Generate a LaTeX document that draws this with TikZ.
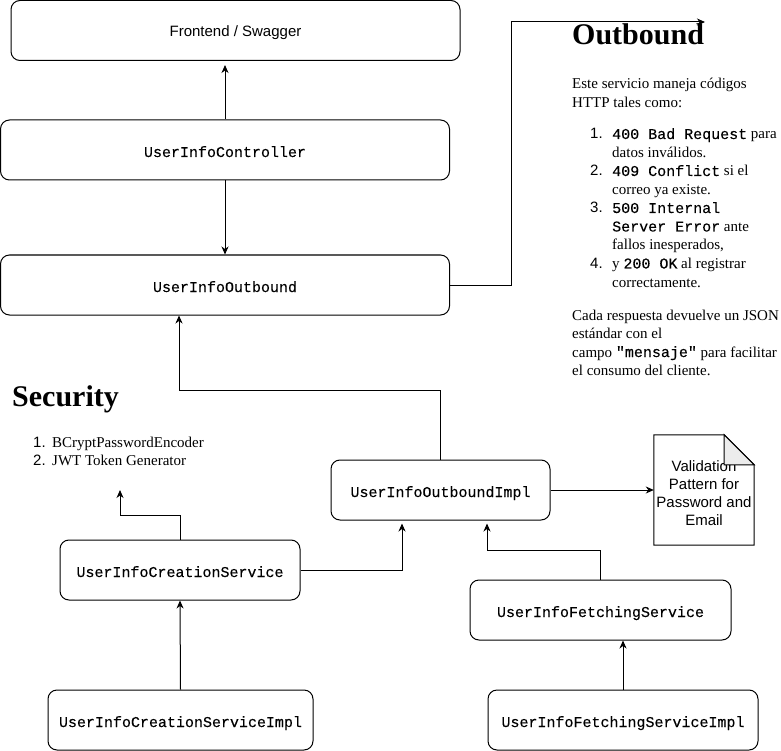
\documentclass[tikz,border=0pt]{standalone}
\usepackage{fontspec}
\setmainfont{Liberation Serif}
\setsansfont{Liberation Sans}
\setmonofont[FakeBold=0.2]{Liberation Mono}
\usetikzlibrary{arrows.meta}
\begin{document}
\begin{tikzpicture}[x=1pt,y=-1pt,
  box/.style={draw, line width=1pt, rounded corners=9pt, minimum height=60pt, inner sep=0pt,
              text height=14pt, text depth=0pt,
              font=\fontsize{15}{18}\selectfont\ttfamily},
  sbox/.style={box, text height=13pt, font=\fontsize{15}{18}\selectfont\sffamily},
  arr/.style={line width=1pt, -{Stealth[length=8pt,width=7pt,inset=2.5pt]}},
  conn/.style={line width=1pt},
  txt/.style={anchor=base west, inner sep=0pt, font=\fontsize{15}{18.5}\selectfont},
  num/.style={anchor=base west, inner sep=0pt, font=\fontsize{15}{18.5}\selectfont\sffamily},
  ttl/.style={anchor=base west, inner sep=0pt, font=\fontsize{30}{36}\selectfont\bfseries}
]
\useasboundingbox (0,0) rectangle (781,751);

% boxes
\node[sbox, minimum width=449pt] (fe) at (235.5,30.5) {Frontend / Swagger};
\node[box, minimum width=449pt] (ctrl) at (225,150) {UserInfoController};
\node[box, minimum width=449pt] (ob) at (225,285) {UserInfoOutbound};
\node[box, minimum width=219pt] (impl) at (440.5,490) {UserInfoOutboundImpl};
\node[box, minimum width=240pt] (cs) at (180,570) {UserInfoCreationService};
\node[box, minimum width=265pt] (csi) at (180.5,720) {UserInfoCreationServiceImpl};
\node[box, minimum width=261pt] (fs) at (600.5,610) {UserInfoFetchingService};
\node[box, minimum width=270pt] (fsi) at (623,720) {UserInfoFetchingServiceImpl};

% note
\node[minimum width=100pt, minimum height=110pt, inner sep=0pt, align=center,
      font=\fontsize{15}{18}\selectfont\sffamily] (note) at (704,490) {};
\node[inner sep=0pt, align=center, font=\fontsize{15}{18}\selectfont\sffamily]
  (notetxt) at (704,493) {Validation\\Pattern for\\Password and\\Email};
\draw[line width=1pt] (note.north west) -- ([xshift=-30pt]note.north east)
  -- ([yshift=-30pt]note.north east) -- (note.south east) -- (note.south west) -- cycle;
\filldraw[line width=1pt, fill=gray!15] ([xshift=-30pt]note.north east)
  -- ([xshift=-30pt,yshift=-30pt]note.north east) -- ([yshift=-30pt]note.north east) -- cycle;

% connectors
\draw[arr, shorten >=4pt] (ctrl.north) -- (ctrl.north |- fe.south);
\draw[arr] (ctrl.south) -- (ob.north);
\coordinate (obturn) at (511,22);
\coordinate (obend) at (705,22);
\draw[arr] (ob.east) -| (obturn) -- (obend);
\coordinate (ij) at (179,390);
\draw[arr] (impl.north) |- (ij) -- (ij |- ob.south);
\draw[arr] (impl.east) -- (impl.east -| note.west);
\coordinate (sj) at (120,515);
\coordinate (secend) at (120,490);
\draw[arr] (cs.north) |- (sj) -- (secend);
\draw[arr, shorten >=3pt] (cs.east) -| ([xshift=-38.5pt]impl.south);
\coordinate (fj) at (487,550);
\draw[arr, shorten >=3pt] (fs.north) |- (fj) -- (fj |- impl.south);
\draw[arr] (csi.north) -- (cs.south);
\draw[arr] (fsi.north) -- (fsi.north |- fs.south);

% Outbound text
\node[ttl] (obt) at (572,45) {Outbound};
\node[txt] (o1) at (572,89) {Este servicio maneja códigos};
\node[txt] (o2) at (572,107.5) {HTTP tales como:};
\node[num] (n1) at (590,139) {1.};
\node[txt] (o3) at (612,139) {\texttt{400 Bad Request} para};
\node[txt] (o4) at (612,157.5) {datos inválidos.};
\node[num] (n2) at (590,176) {2.};
\node[txt] (o5) at (612,176) {\texttt{409 Conflict} si el};
\node[txt] (o6) at (612,194.5) {correo ya existe.};
\node[num] (n3) at (590,213) {3.};
\node[txt] (o7) at (612,213) {\texttt{500 Internal}};
\node[txt] (o8) at (612,231.5) {\texttt{Server Error} ante};
\node[txt] (o9) at (612,250) {fallos inesperados,};
\node[num] (n4) at (590,268.5) {4.};
\node[txt] (o10) at (612,268.5) {y \texttt{200 OK} al registrar};
\node[txt] (o11) at (612,287) {correctamente.};
\node[txt] (o12) at (572,320) {Cada respuesta devuelve un JSON};
\node[txt] (o13) at (572,338.5) {estándar con el};
\node[txt] (o14) at (572,357) {campo \texttt{"mensaje"} para facilitar};
\node[txt] (o15) at (572,375.5) {el consumo del cliente.};

% Security text
\node[ttl] (sect) at (12,406) {Security};
\node[num] (s1n) at (33,447) {1.};
\node[txt] (s1) at (52,447) {BCryptPasswordEncoder};
\node[num] (s2n) at (33,465.5) {2.};
\node[txt] (s2) at (52,465.5) {JWT Token Generator};
\end{tikzpicture}
\end{document}
